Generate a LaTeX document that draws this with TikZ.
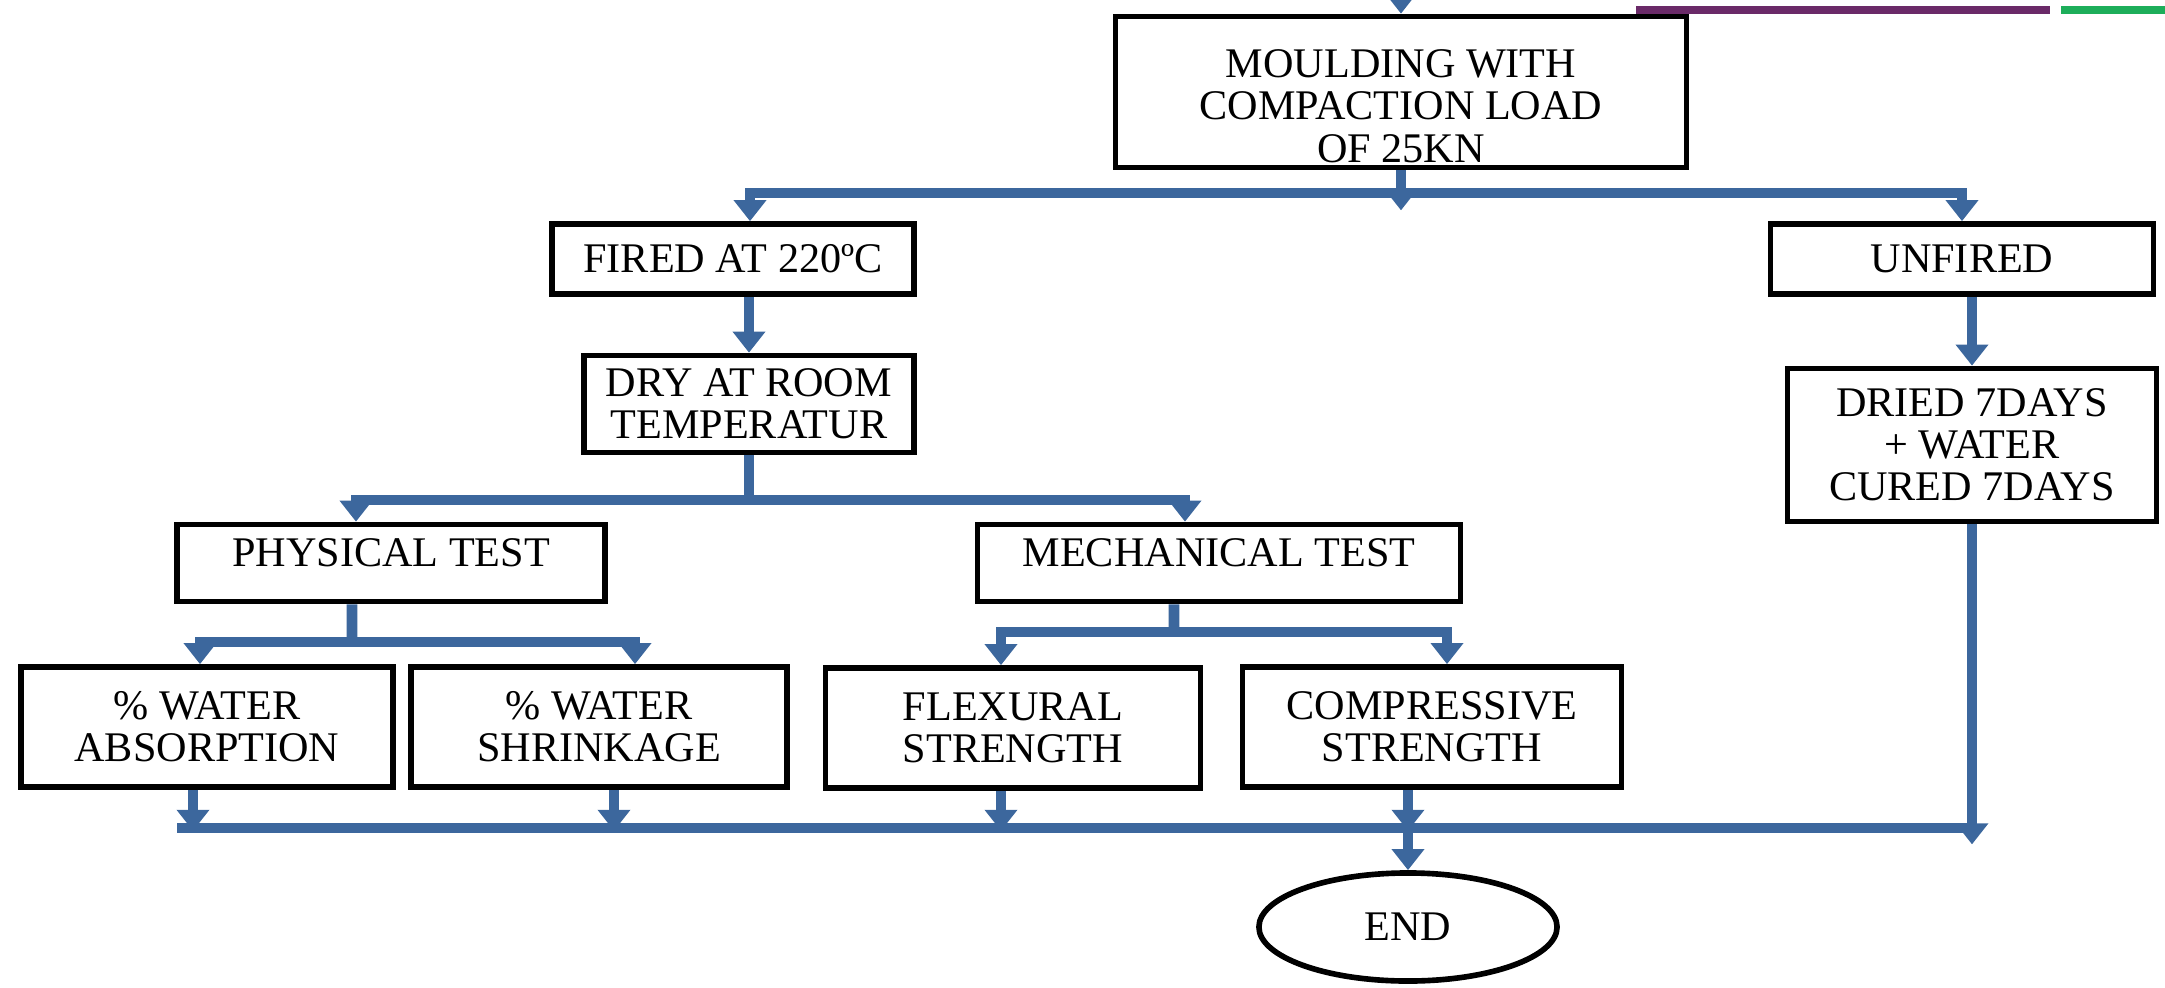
\documentclass[tikz,border=0pt]{standalone}
\usepackage{fontspec}
\setmainfont{Liberation Serif}
\usetikzlibrary{arrows.meta,shapes.geometric}

\definecolor{flowblue}{HTML}{3C679D}
\definecolor{rulepurple}{HTML}{6A2A68}
\definecolor{rulegreen}{HTML}{1DAE5A}

\begin{document}
\begin{tikzpicture}[x=0.01cm, y=-0.01cm, >={Triangle[width=9pt,length=6pt]},
  box/.style={rectangle, draw, line width=1.6pt, align=center, inner sep=0pt,
    font=\fontsize{12}{12}\selectfont},
  flow/.style={draw=flowblue, line width=3.1pt}]
  \useasboundingbox (0,0) rectangle (2165,987);

  % rules at the top right
  \draw[rulepurple, line width=2.2pt] (1636,10) -- (2050,10);
  \draw[rulegreen, line width=2.2pt] (2061,10) -- (2165,10);

  % process boxes
  \node[box, minimum width=5.71cm, minimum height=1.51cm] (mould) at (1401,92) {\rule{0pt}{16pt}MOULDING WITH\\COMPACTION LOAD\\OF 25KN};
  \node[box, minimum width=3.62cm, minimum height=0.70cm] (fired) at (733,259) {FIRED AT 220ºC};
  \node[box, minimum width=3.83cm, minimum height=0.70cm] (unfired) at (1962,259) {UNFIRED};
  \node[box, minimum width=3.30cm, minimum height=0.97cm] (dry) at (749,404) {DRY AT ROOM\\TEMPERATUR};
  \node[box, minimum width=3.69cm, minimum height=1.53cm] (dried) at (1972,445) {DRIED 7DAYS\\+ WATER\\CURED 7DAYS};
  \node[box, minimum width=4.28cm, minimum height=0.77cm, text depth=6pt] (phys) at (391,563) {PHYSICAL TEST};
  \node[box, minimum width=4.83cm, minimum height=0.77cm, text depth=6pt] (mech) at (1219,563) {MECHANICAL TEST};

  % tests
  \node[box, minimum width=3.72cm, minimum height=1.20cm] (absorb) at (207,727) {\% WATER\\ABSORPTION};
  \node[box, minimum width=3.76cm, minimum height=1.20cm] (shrink) at (599,727) {\% WATER\\SHRINKAGE};
  \node[box, minimum width=3.75cm, minimum height=1.20cm] (flex) at (1013,728) {FLEXURAL\\STRENGTH};
  \node[box, minimum width=3.79cm, minimum height=1.20cm] (comp) at (1432,727) {COMPRESSIVE\\STRENGTH};
  \node[ellipse, draw, line width=1.6pt, minimum width=2.98cm, minimum height=1.08cm,
    font=\fontsize{12}{12}\selectfont] (end) at (1408,927) {END};

  % junctions
  \coordinate (top) at (1401,0);
  \coordinate (j1) at (1401,193);
  \coordinate (j2) at (749,500);
  \coordinate (j3) at (352,642);
  \coordinate (j4) at (1174,632);
  \coordinate (bl) at (177,828);
  \coordinate (br) at (1972,828);

  % connectors
  \draw[flow,->] (top) -- (mould.north);
  \draw[flow,->] (mould.south) -- ++(0,40);
  \draw[flow,->] (j1) -| ([xshift=0.17cm]fired.north);
  \draw[flow,->] (j1) -| (unfired.north);
  \draw[flow,->] (fired.south -| dry.north) -- (dry.north);
  \draw[flow,->] (unfired.south -| dried.north) -- (dried.north);
  \draw[flow] (dry.south) -- (j2);
  \draw[flow,->] (j2) -| ([xshift=-0.35cm]phys.north);
  \draw[flow,->] (j2) -| ([xshift=-0.34cm]mech.north);
  \draw[flow] ([xshift=-0.39cm]phys.south) -- (j3);
  \draw[flow,->] (j3) -| ([xshift=-0.07cm]absorb.north);
  \draw[flow,->] (j3) -| ([xshift=0.36cm]shrink.north);
  \draw[flow] ([xshift=-0.45cm]mech.south) -- (j4);
  \draw[flow,->] (j4) -| ([xshift=-0.12cm]flex.north);
  \draw[flow,->] (j4) -| ([xshift=0.15cm]comp.north);

  % collecting line
  \draw[flow] (bl) -- (br);
  \draw[flow,->] ([xshift=-0.14cm]absorb.south) -- ++(0,41);
  \draw[flow,->] ([xshift=0.15cm]shrink.south) -- ++(0,41);
  \draw[flow,->] ([xshift=-0.12cm]flex.south) -- ++(0,40);
  \draw[flow,->] ([xshift=-0.24cm]comp.south) -- ++(0,41);
  \draw[flow,->] (dried.south) -- ++(0,320);
  \draw[flow,->] (end.north |- bl) -- (end.north);
\end{tikzpicture}
\end{document}
